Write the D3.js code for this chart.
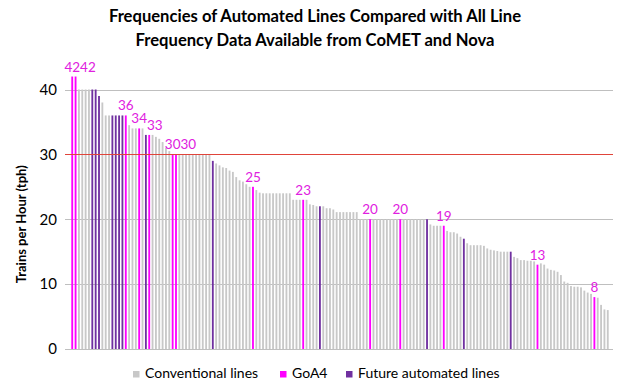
<!DOCTYPE html>
<html>
<head>
<meta charset="utf-8">
<script src="https://cdn.jsdelivr.net/npm/d3@7"></script>
<style>
  html, body { margin: 0; padding: 0; background: #fff; }
  svg { display: block; font-family: Lato, "Open Sans", sans-serif; }
</style>
</head>
<body>
<svg id="chart" width="620" height="390"></svg>
<script>
// ---- Data ----
const titleLines = ["Frequencies of Automated Lines Compared with All Line",
                    "Frequency Data Available from CoMET and Nova"];
const yAxisTitle = "Trains per Hour (tph)";
const yTicks = [0, 10, 20, 30, 40];
const thresholdValue = 30;

// frequency (tph) of each line, sorted descending
const frequencies = [
  42, 42, 40, 40, 40, 40, 40, 40, 39, 38,
  36, 36, 36, 36, 36, 36, 36, 34.5, 34, 34,
  34, 34, 33, 33, 33, 32.7, 32.4, 31.9, 31, 30.5,
  30, 30, 30, 30, 30, 30, 30, 30, 30, 30,
  30, 30, 29, 28.6, 28.3, 28, 27.9, 27.5, 27.3, 26.5,
  26, 25.8, 25.4, 25, 25, 24.5, 24.1, 24, 24, 24,
  24, 24, 24, 24, 24, 24, 23, 23, 23, 23,
  23, 22.3, 22.2, 22, 22, 22, 21.7, 21.7, 21.5, 21.1,
  21.1, 21.1, 21.1, 21.1, 21.1, 21.1, 20, 20, 20, 20,
  20, 20, 20, 20, 20, 20, 20, 20, 20, 20,
  20, 20, 20, 20, 20, 20, 20, 19.2, 19, 19,
  19, 19, 18.2, 18, 18, 17.8, 17.3, 17, 16.3, 16,
  16, 16, 16, 15.9, 15.5, 15.3, 15.2, 15.1, 15, 15,
  15, 15, 14.2, 14, 13.7, 13.7, 13.6, 13.6, 13.5, 13,
  13.2, 13, 12.4, 12.2, 12.1, 11.9, 11.4, 10.4, 10.2, 9.7,
  9.6, 9.6, 9.5, 9, 8.7, 8.5, 8, 7.9, 6.8, 6.1,
  6
];
// line type: C = conventional, G = GoA4, F = future automated
const lineTypes = [
  "G","G","C","C","C","C","F","F","F","C",
  "C","C","F","F","F","F","G","C","C","C",
  "G","C","F","G","C","C","C","C","C","C",
  "G","G","C","C","C","C","C","C","C","C",
  "C","C","F","C","C","C","C","C","C","C",
  "C","C","C","C","G","C","C","C","C","C",
  "C","C","C","C","C","C","C","C","C","G",
  "C","C","C","C","F","C","C","C","C","C",
  "C","C","C","C","C","C","C","C","C","G",
  "C","C","C","C","C","C","C","C","G","C",
  "C","C","C","C","C","C","F","C","C","C",
  "C","G","C","C","C","C","C","F","C","C",
  "C","C","C","C","C","C","C","C","C","C",
  "C","F","C","C","C","C","C","C","C","G",
  "C","C","C","C","C","C","C","C","C","C",
  "C","C","C","C","C","C","G","C","C","C",
  "C"
];
const legendLabels = ["Conventional lines", "GoA4", "Future automated lines"];
const legendKeys = ["C", "G", "F"];

// ---- Styles ----
const colors = { C: "#c8c8c8", G: "#ff00ff", F: "#7030a0" };
const labelColor = "#e020e0";

const svg = d3.select("#chart");
const plot = { left: 65, right: 613, top: 89.5, bottom: 349 };

const idx = frequencies.map((d, i) => i);
const x = d3.scaleBand().domain(idx).range([70.3, 609.7]).paddingInner(0.45).paddingOuter(0.3);
const y = d3.scaleLinear().domain([0, 40]).range([plot.bottom, plot.top]);

// Title
svg.append("g").selectAll("text").data(titleLines).join("text")
  .attr("x", 315).attr("y", (d, i) => 22 + i * 23.5)
  .attr("text-anchor", "middle")
  .attr("font-size", 16.6).attr("font-weight", "bold").attr("fill", "#000")
  .text(d => d);

// Gridlines
svg.append("g").selectAll("line").data(yTicks).join("line")
  .attr("x1", plot.left).attr("x2", plot.right)
  .attr("y1", d => Math.round(y(d)) + 0.5).attr("y2", d => Math.round(y(d)) + 0.5)
  .attr("stroke", "#bfbfbf").attr("stroke-width", 1);

// Y axis labels via d3 axis
const yAxis = d3.axisLeft(y).tickValues(yTicks).tickSize(0).tickPadding(0);
const gy = svg.append("g").attr("transform", `translate(${57},0)`).call(yAxis);
gy.select(".domain").remove();
gy.selectAll("text").attr("font-size", 15).attr("font-family", "Lato, sans-serif").attr("fill", "#000");

// Y axis title
svg.append("text")
  .attr("transform", `translate(26,${(plot.top + plot.bottom) / 2 + 5}) rotate(-90)`)
  .attr("text-anchor", "middle")
  .attr("font-size", 13).attr("font-weight", "bold").attr("fill", "#000")
  .text(yAxisTitle);

// Bars
svg.append("g").selectAll("rect").data(idx).join("rect")
  .attr("x", i => x(i))
  .attr("width", x.bandwidth())
  .attr("y", i => y(frequencies[i]))
  .attr("height", i => y(0) - y(frequencies[i]))
  .attr("fill", i => colors[lineTypes[i]]);

// Threshold line
svg.append("line")
  .attr("x1", plot.left).attr("x2", plot.right)
  .attr("y1", Math.round(y(thresholdValue)) + 0.5).attr("y2", Math.round(y(thresholdValue)) + 0.5)
  .attr("stroke", "#e0443a").attr("stroke-width", 1.2);

// Data labels for GoA4 lines, with simple collision avoidance
const labelG = svg.append("g");
const placed = [];
idx.filter(i => lineTypes[i] === "G").forEach(i => {
  const t = labelG.append("text")
    .attr("font-size", 13.5).attr("fill", labelColor)
    .text(d3.format("d")(frequencies[i]));
  const w = t.node().getComputedTextLength();
  const h = 10;
  let cx = x(i) + x.bandwidth() / 2;
  const base = y(frequencies[i]) - 5;
  let left = cx - w / 2;
  let moved = true;
  while (moved) {
    moved = false;
    for (const p of placed) {
      const yOverlap = !(base - h > p.base || base < p.base - h);
      const xOverlap = left < p.right && left + w > p.left;
      if (yOverlap && xOverlap) { left = p.right; moved = true; }
    }
  }
  placed.push({ left, right: left + w, base });
  t.attr("x", left).attr("y", base);
});

// Legend
const legendPos = [133, 280, 346];
const lg = svg.append("g").selectAll("g").data(legendKeys).join("g")
  .attr("transform", (d, i) => `translate(${legendPos[i]},371)`);
lg.append("rect").attr("width", 6.5).attr("height", 6.5).attr("fill", d => colors[d]);
lg.append("text").attr("x", 12).attr("y", 7).attr("font-size", 14).attr("fill", "#000")
  .text((d, i) => legendLabels[i]);
</script>
</body>
</html>
